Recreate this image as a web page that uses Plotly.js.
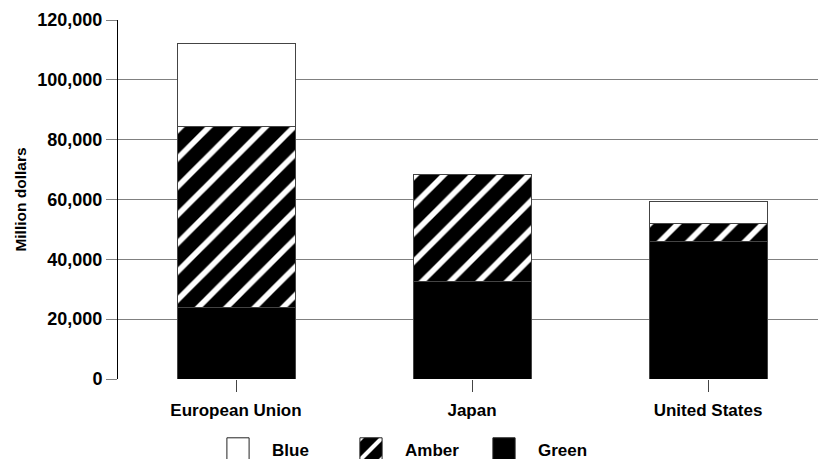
<!DOCTYPE html>
<html>
<head>
<meta charset="utf-8">
<script src="https://cdn.plot.ly/plotly-3.0.1.min.js"></script>
<style>html,body{margin:0;padding:0;background:#fff;}#chart{width:818px;height:459px;}</style>
</head>
<body>
<div id="chart"></div>
<script>
const categories = ["European Union", "Japan", "United States"];
const greenValues = [24000, 32500, 46000];
const amberValues = [60500, 36000, 6000];
const blueValues = [27500, 0, 7500];
const yTickValues = [0, 20000, 40000, 60000, 80000, 100000, 120000];

const FONT = 'Liberation Sans, Arial, sans-serif';
const outline = {color: '#444', width: 1};

const traces = [
  {type: 'bar', name: 'Green', x: categories, y: greenValues,
   marker: {color: 'black', line: outline}},
  {type: 'bar', name: 'Amber', x: categories, y: amberValues,
   marker: {color: 'black', line: outline,
            pattern: {shape: '/', bgcolor: 'black', fgcolor: 'white', size: 20, solidity: 0.28, fillmode: 'replace'}}},
  {type: 'bar', name: 'Blue', x: categories, y: blueValues,
   marker: {color: 'white', line: outline}}
];

const layout = {
  width: 818, height: 459,
  margin: {l: 118, r: 0, t: 20, b: 80},
  barmode: 'stack',
  bargap: 0.5,
  paper_bgcolor: 'white', plot_bgcolor: 'white',
  font: {family: FONT, size: 16, color: 'black', weight: 'bold'},
  showlegend: true,
  legend: {orientation: 'h', traceorder: 'reversed',
           xref: 'container', yref: 'container', x: 0.2714, xanchor: 'left', y: 0.021, yanchor: 'middle',
           font: {family: FONT, size: 17, color: 'black', weight: 'bold'},
           entrywidth: 78, entrywidthmode: 'pixels', itemwidth: 40},
  xaxis: {range: [-0.5, 2.466], showline: false, showgrid: false, zeroline: false,
          ticks: 'outside', ticklen: 12, tickcolor: '#444', tickwidth: 1, ticklabelstandoff: 4,
          tickfont: {family: FONT, size: 17, color: 'black', weight: 'bold'}},
  yaxis: {range: [0, 120000], tickvals: yTickValues, tickformat: ',d',
          showline: true, linecolor: 'black', linewidth: 1,
          showgrid: true, gridcolor: '#808080', gridwidth: 1, zeroline: false,
          ticks: 'outside', ticklen: 11, tickcolor: '#808080',
          tickfont: {family: FONT, size: 18, color: 'black', weight: 'bold'},
          title: {text: 'Million dollars', font: {family: FONT, size: 15.5, color: 'black', weight: 'bold'}, standoff: 6}}
};

Plotly.newPlot('chart', traces, layout, {displayModeBar: false, staticPlot: true}).then(function (gd) {
  gd.querySelectorAll('.legend .legendpoints path').forEach(function (p) {
    p.setAttribute('transform', 'translate(16,0) scale(1.85)');
    p.setAttribute('vector-effect', 'non-scaling-stroke');
    p.style.stroke = '#222';
    p.style.strokeWidth = '1px';
  });
});
</script>
</body>
</html>
